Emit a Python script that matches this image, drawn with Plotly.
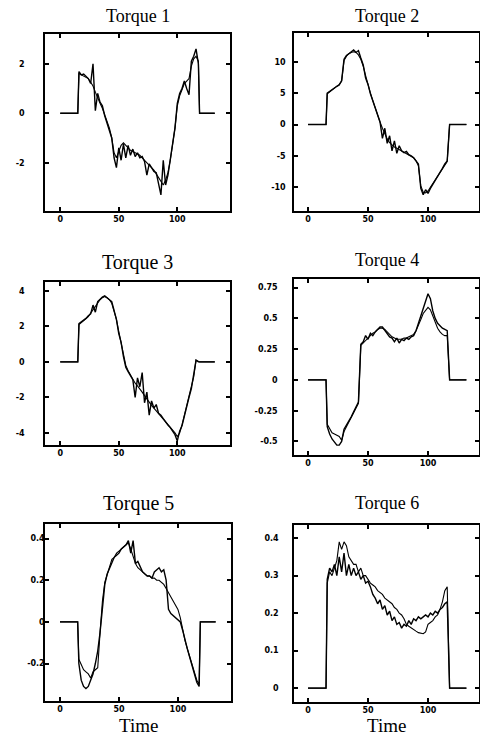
import plotly.graph_objects as go

# ---------------- data ----------------
TIME = [0, 15,
        16, 18, 20, 22, 24, 26, 28, 30, 32, 34,
        36, 38, 40, 42, 44, 46, 48, 50, 52, 54,
        56, 58, 60, 62, 64, 66, 68, 70, 72, 74,
        76, 78, 80, 82, 84, 86, 88, 90, 92, 94,
        96, 98, 100, 102, 104, 106, 108, 110, 112, 114,
        116, 118, 119, 132]

TITLES = ["Torque 1", "Torque 2", "Torque 3", "Torque 4", "Torque 5", "Torque 6"]

T1_ACTUAL = [0, 0,
             1.68, 1.55, 1.58, 1.50, 1.40, 1.20, 2.00, 0.10, 0.80, 0.45,
             0.30, -0.10, -0.40, -0.60, -1.00, -1.80, -2.20, -1.40, -1.90, -1.25,
             -1.80, -1.30, -1.70, -1.45, -1.75, -1.60, -1.80, -1.75, -1.95, -2.50,
             -2.05, -2.20, -2.35, -2.40, -2.80, -3.30, -1.90, -2.90, -2.50, -1.90,
             -1.30, -0.60, 0.40, 0.80, 1.00, 1.30, 1.00, 0.75, 2.10, 2.30,
             2.60, 2.00, 0, 0]
T1_MODEL = [0, 0,
            1.60, 1.55, 1.50, 1.45, 1.40, 1.25, 1.10, 0.85, 0.60, 0.40,
            0.20, -0.05, -0.35, -0.60, -1.00, -1.60, -1.80, -1.50, -1.30, -1.20,
            -1.30, -1.40, -1.50, -1.55, -1.60, -1.65, -1.70, -1.80, -1.90, -2.00,
            -2.10, -2.20, -2.30, -2.45, -2.60, -2.80, -2.90, -2.70, -2.40, -1.90,
            -1.30, -0.60, 0.30, 0.70, 0.95, 1.20, 1.30, 1.40, 1.90, 2.20,
            2.30, 2.10, 0, 0]

T2_ACTUAL = [0, 0,
             5.0, 5.3, 5.6, 5.8, 6.1, 6.3, 7.0, 10.4, 11.0, 11.3,
             11.6, 11.9, 11.5, 11.8, 10.6, 9.5, 7.4, 6.4, 4.9, 3.8,
             2.6, 1.5, 0.4, -2.2, -0.6, -3.0, -1.8, -4.2, -2.6, -4.6,
             -3.4, -4.2, -4.5, -4.3, -4.8, -5.0, -5.3, -5.8, -6.3, -10.2,
             -11.2, -10.4, -11.0, -10.2, -9.6, -9.0, -8.3, -7.7, -7.0, -6.3,
             -5.8, 0, 0, 0]
T2_MODEL = [0, 0,
            4.9, 5.2, 5.5, 5.8, 6.0, 6.4, 6.9, 10.2, 10.9, 11.3,
            11.5, 11.6, 11.5, 11.1, 10.4, 9.3, 7.8, 6.3, 5.0, 3.8,
            2.6, 1.5, 0.4, -0.6, -1.5, -2.3, -2.9, -3.3, -3.6, -3.8,
            -4.0, -4.2, -4.4, -4.6, -4.8, -5.0, -5.3, -5.8, -6.6, -9.8,
            -10.8, -10.9, -10.6, -10.0, -9.4, -8.8, -8.2, -7.6, -7.0, -6.4,
            -5.9, 0, 0, 0]

T3_ACTUAL = [0, 0,
             2.15, 2.25, 2.30, 2.45, 2.60, 2.70, 3.20, 2.80, 3.40, 3.55,
             3.65, 3.72, 3.62, 3.50, 3.40, 2.90, 2.40, 1.60, 1.10, 0.30,
             -0.30, -0.55, -0.80, -1.00, -2.00, -0.90, -1.40, -0.60, -2.30, -1.70,
             -3.00, -2.20, -2.60, -2.40, -2.90, -3.00, -3.20, -3.40, -3.55, -3.70,
             -3.90, -4.10, -4.45, -3.90, -3.60, -3.00, -2.50, -2.00, -1.50, -0.80,
             0.10, 0, 0, 0]
T3_MODEL = [0, 0,
            2.10, 2.20, 2.30, 2.40, 2.55, 2.75, 2.95, 3.15, 3.35, 3.50,
            3.62, 3.68, 3.62, 3.50, 3.30, 2.90, 2.40, 1.70, 1.10, 0.40,
            -0.20, -0.50, -0.75, -1.00, -1.20, -1.35, -1.50, -1.70, -1.90, -2.10,
            -2.30, -2.45, -2.60, -2.75, -2.90, -3.05, -3.20, -3.40, -3.55, -3.70,
            -3.85, -4.00, -4.20, -4.00, -3.55, -3.00, -2.50, -2.00, -1.45, -0.85,
            0.10, 0, 0, 0]

T4_ACTUAL = [0, 0,
             -0.38, -0.44, -0.48, -0.51, -0.53, -0.53, -0.50, -0.40, -0.37, -0.33,
             -0.30, -0.26, -0.22, -0.18, 0.29, 0.31, 0.36, 0.33, 0.38, 0.36,
             0.39, 0.41, 0.43, 0.43, 0.40, 0.38, 0.35, 0.34, 0.31, 0.34,
             0.30, 0.33, 0.32, 0.34, 0.33, 0.35, 0.36, 0.40, 0.46, 0.52,
             0.58, 0.65, 0.70, 0.66, 0.56, 0.50, 0.46, 0.44, 0.42, 0.41,
             0.40, 0, 0, 0]
T4_MODEL = [0, 0,
            -0.36, -0.40, -0.43, -0.44, -0.45, -0.46, -0.49, -0.42, -0.38, -0.34,
            -0.30, -0.26, -0.22, -0.19, 0.28, 0.30, 0.32, 0.34, 0.36, 0.38,
            0.39, 0.41, 0.42, 0.42, 0.41, 0.39, 0.37, 0.35, 0.34, 0.33,
            0.33, 0.33, 0.34, 0.34, 0.35, 0.36, 0.37, 0.40, 0.44, 0.49,
            0.54, 0.57, 0.59, 0.57, 0.52, 0.47, 0.42, 0.39, 0.37, 0.36,
            0.36, 0, 0, 0]

T5_ACTUAL = [0, 0,
             -0.20, -0.28, -0.31, -0.32, -0.31, -0.28, -0.25, -0.20, -0.14, -0.05,
             0.08, 0.18, 0.23, 0.26, 0.29, 0.31, 0.32, 0.33, 0.35, 0.36,
             0.37, 0.39, 0.33, 0.39, 0.28, 0.29, 0.26, 0.24, 0.23, 0.22,
             0.22, 0.21, 0.24, 0.25, 0.26, 0.24, 0.25, 0.20, 0.06, 0.04,
             0.03, 0.02, 0.01, 0.00, -0.04, -0.09, -0.13, -0.17, -0.21, -0.25,
             -0.29, -0.31, 0, 0]
T5_MODEL = [0, 0,
            -0.18, -0.21, -0.23, -0.24, -0.25, -0.27, -0.24, -0.23, -0.22, -0.05,
            0.10, 0.19, 0.23, 0.27, 0.30, 0.31, 0.33, 0.34, 0.35, 0.36,
            0.37, 0.38, 0.35, 0.31, 0.28, 0.26, 0.25, 0.24, 0.23, 0.22,
            0.22, 0.21, 0.21, 0.20, 0.20, 0.19, 0.18, 0.16, 0.14, 0.12,
            0.10, 0.08, 0.06, 0.02, -0.04, -0.09, -0.13, -0.17, -0.21, -0.24,
            -0.28, -0.30, 0, 0]

T6_ACTUAL = [0, 0,
             0.29, 0.32, 0.31, 0.33, 0.30, 0.35, 0.31, 0.36, 0.30, 0.33,
             0.30, 0.32, 0.30, 0.31, 0.29, 0.30, 0.28, 0.285, 0.27, 0.25,
             0.24, 0.225, 0.235, 0.21, 0.22, 0.195, 0.205, 0.18, 0.19, 0.17,
             0.175, 0.16, 0.17, 0.165, 0.18, 0.17, 0.185, 0.18, 0.19, 0.185,
             0.19, 0.195, 0.19, 0.20, 0.195, 0.205, 0.20, 0.21, 0.215, 0.225,
             0.23, 0, 0, 0]
T6_MODEL = [0, 0,
            0.28, 0.31, 0.30, 0.32, 0.34, 0.39, 0.37, 0.39, 0.38, 0.35,
            0.34, 0.33, 0.33, 0.31, 0.32, 0.30, 0.30, 0.29, 0.28, 0.275,
            0.27, 0.26, 0.255, 0.25, 0.24, 0.235, 0.23, 0.225, 0.215, 0.21,
            0.20, 0.195, 0.185, 0.17, 0.165, 0.16, 0.155, 0.152, 0.148, 0.146,
            0.145, 0.15, 0.17, 0.175, 0.18, 0.19, 0.195, 0.21, 0.23, 0.26,
            0.27, 0, 0, 0]

X_TICKS = [0, 50, 100]
Y_TICKS = [
    [-2, 0, 2],
    [-10, -5, 0, 5, 10],
    [-4, -2, 0, 2, 4],
    [-0.5, -0.25, 0, 0.25, 0.5, 0.75],
    [-0.2, 0, 0.2, 0.4],
    [0, 0.1, 0.2, 0.3, 0.4],
]
Y_TICK_TEXT = [
    ["-2", "0", "2"],
    ["-10", "-5", "0", "5", "10"],
    ["-4", "-2", "0", "2", "4"],
    ["-0.5", "-0.25", "0", "0.25", "0.5", "0.75"],
    ["-0.2", "0", "0.2", "0.4"],
    ["0", "0.1", "0.2", "0.3", "0.4"],
]
SERIES = [
    (T1_ACTUAL, T1_MODEL), (T2_ACTUAL, T2_MODEL), (T3_ACTUAL, T3_MODEL),
    (T4_ACTUAL, T4_MODEL), (T5_ACTUAL, T5_MODEL), (T6_ACTUAL, T6_MODEL),
]

# ---------------- layout geometry (pixels in a 480x739 page) ----------------
W, H = 480, 739
BOXES = [  # left, right, top, bottom
    (45, 230, 34, 211),
    (294, 479, 33, 211),
    (45, 230, 282, 445),
    (294, 479, 279, 455),
    (45, 231, 524, 701),
    (294, 479, 525, 702),
]
X_RANGES = [(-13, 145), (-11.7, 142.5), (-13, 145), (-11.7, 142.5), (-12.7, 145), (-11.7, 142.5)]
Y_RANGES = [(-3.95, 3.2), (-13.8, 14.6), (-4.68, 4.5), (-0.61, 0.82), (-0.38, 0.47), (-0.037, 0.435)]
STANDOFF = [17, 5, 17, 13, -3, 12]
TITLE_Y = [16, 16, 262, 260, 503, 503]
TITLE_SIZE = [18, 18, 20, 18, 20, 18]

fig = go.Figure()
layout = dict(
    width=W, height=H,
    margin=dict(l=0, r=0, t=0, b=0),
    paper_bgcolor="white", plot_bgcolor="white",
    showlegend=False,
)
annotations = []
tick_font = dict(family="DejaVu Sans", size=8, color="black", weight="bold")

for i in range(6):
    n = "" if i == 0 else str(i + 1)
    xa, ya = "x" + n, "y" + n
    actual, model = SERIES[i]
    fig.add_trace(go.Scatter(x=TIME, y=model, mode="lines", xaxis=xa, yaxis=ya,
                             line=dict(color="black", width=1.1)))
    fig.add_trace(go.Scatter(x=TIME, y=actual, mode="lines", xaxis=xa, yaxis=ya,
                             line=dict(color="black", width=1.4)))
    l, r, t, b = BOXES[i]
    common = dict(showline=True, linecolor="black", linewidth=1.5, mirror="allticks",
                  ticks="inside", ticklen=4, tickwidth=1.5, tickcolor="black",
                  showgrid=False, zeroline=False, tickfont=tick_font)
    layout["xaxis" + n] = dict(domain=[l / W, r / W], range=list(X_RANGES[i]),
                               anchor=ya, tickvals=X_TICKS,
                               ticktext=[str(v) for v in X_TICKS], **common)
    layout["yaxis" + n] = dict(domain=[1 - b / H, 1 - t / H], range=list(Y_RANGES[i]),
                               anchor=xa, tickvals=Y_TICKS[i], ticktext=Y_TICK_TEXT[i],
                               ticklabelstandoff=STANDOFF[i], **common)
    annotations.append(dict(text=TITLES[i], x=(l + r) / 2 / W, y=1 - TITLE_Y[i] / H,
                            xref="paper", yref="paper", showarrow=False,
                            xanchor="center", yanchor="middle",
                            font=dict(family="Liberation Serif", size=TITLE_SIZE[i], color="black")))

for cx in [(45 + 231) / 2, (294 + 479) / 2]:
    annotations.append(dict(text="Time", x=cx / W, y=1 - 725 / H, xref="paper", yref="paper",
                            showarrow=False, xanchor="center", yanchor="middle",
                            font=dict(family="Liberation Serif", size=19, color="black")))

layout["annotations"] = annotations
fig.update_layout(**layout)
fig.write_html("out.html", config={"displayModeBar": False},
               post_script="document.body.style.margin='0';document.body.style.overflow='hidden';")
